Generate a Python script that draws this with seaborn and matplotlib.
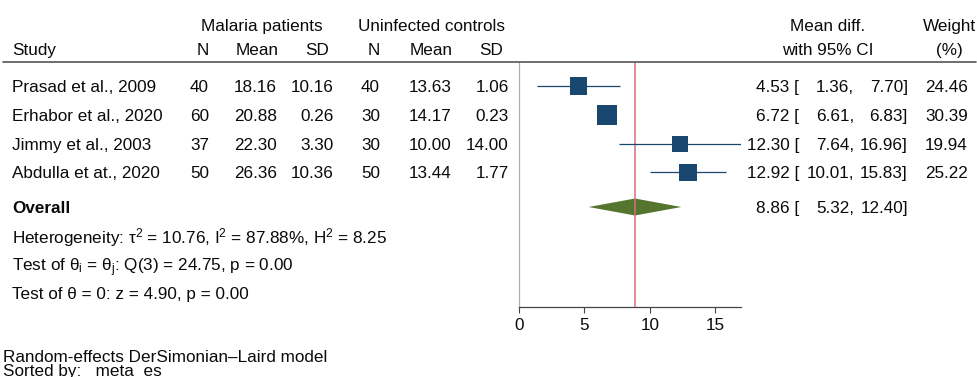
import numpy as np
import pandas as pd
import matplotlib
matplotlib.use("Agg")
import matplotlib.pyplot as plt
import matplotlib.transforms as mtransforms
from matplotlib.lines import Line2D
import seaborn as sns

# study data
studies = ["Prasad et al., 2009", "Erhabor et al., 2020", "Jimmy et al., 2003", "Abdulla et at., 2020"]
mal_n = [40, 60, 37, 50]
mal_mean = [18.16, 20.88, 22.30, 26.36]
mal_sd = [10.16, 0.26, 3.30, 10.36]
ctl_n = [40, 30, 30, 50]
ctl_mean = [13.63, 14.17, 10.00, 13.44]
ctl_sd = [1.06, 0.23, 14.00, 1.77]
effect = [4.53, 6.72, 12.30, 12.92]
ci_low = [1.36, 6.61, 7.64, 10.01]
ci_high = [7.70, 6.83, 16.96, 15.83]
weight = [24.46, 30.39, 19.94, 25.22]

# overall estimate and stats
overall_es, overall_lo, overall_hi = 8.86, 5.32, 12.40
tau2, i2, h2 = 10.76, 87.88, 8.25
q_df, q_stat, q_p = 3, 24.75, 0.00
z_stat, z_p = 4.90, 0.00
x_ticks = [0, 5, 10, 15]

sns.set_theme(style="white")
plt.rcParams['font.family'] = ['Liberation Sans', 'DejaVu Sans']
plt.rcParams['mathtext.fontset'] = 'custom'
plt.rcParams['mathtext.rm'] = 'Liberation Sans'
plt.rcParams['mathtext.it'] = 'Liberation Sans:italic'
plt.rcParams['mathtext.bf'] = 'Liberation Sans:bold'

W, H = 978, 377
FS = 12.3
navy = "#1a476f"
green = "#55752f"
red = "#d6707c"
ink = "#0a0a0a"

df = pd.DataFrame({"study": studies, "es": effect, "lo": ci_low, "hi": ci_high, "w": weight})
df["row"] = np.arange(len(df))

fig = plt.figure(figsize=(W / 100, H / 100), dpi=100)
ax = fig.add_axes([519 / W, 1 - 307 / H, (741 - 519) / W, (307 - 62) / H])

row_top, row_px = 86, 28.8
def row_of(px):
    return (px - row_top) / row_px

ax.set_ylim(row_of(307), row_of(62))
ax.set_xlim(0, 16.96)

# overall diamond
dh = 8.5 / row_px
r_ov = row_of(207)
ax.fill([overall_lo, overall_es, overall_hi, overall_es],
        [r_ov, r_ov - dh, r_ov, r_ov + dh], color=green, lw=0, zorder=2)
ax.axvline(overall_es, color=red, lw=1.1, zorder=3)

# CIs and weighted squares
ax.hlines(df["row"], df["lo"], df["hi"], color=navy, lw=0.9, zorder=4)
sns.scatterplot(data=df, x="es", y="row", marker="s", s=df["w"] * 6.5,
                color=navy, edgecolor="none", linewidth=0, ax=ax, zorder=5, legend=False)

ax.set_xticks(x_ticks)
ax.set_yticks([])
ax.set_xlabel("")
ax.set_ylabel("")
for side in ["top", "right"]:
    ax.spines[side].set_visible(False)
ax.spines["left"].set_color("#b0b0b0")
ax.spines["left"].set_linewidth(0.9)
ax.spines["bottom"].set_color("#444444")
ax.spines["bottom"].set_linewidth(0.9)
ax.tick_params(axis="x", direction="out", length=4, width=0.8, color="#444444",
               labelsize=FS, labelcolor=ink, pad=4, bottom=True)

# text helpers
row_tr = mtransforms.blended_transform_factory(fig.transFigure, ax.transData)
row_tr = mtransforms.offset_copy(row_tr, fig=fig, x=0, y=-6, units="dots")

def rtext(xpx, row, s, ha="right", **kw):
    fig.text(xpx / W, row, s, ha=ha, va="baseline", fontsize=FS, color=ink,
             transform=row_tr, **kw)

def ftext(xpx, ypx, s, ha="left", **kw):
    fig.text(xpx / W, 1 - (ypx + 6) / H, s, ha=ha, va="baseline", fontsize=FS,
             color=ink, **kw)

# header
ftext(262, 25, "Malaria patients", ha="center")
ftext(432, 25, "Uninfected controls", ha="center")
ftext(828, 25, "Mean diff.", ha="center")
ftext(949, 25, "Weight", ha="center")
ftext(12, 49, "Study")
ftext(209, 49, "N", ha="right")
ftext(279, 49, "Mean", ha="right")
ftext(329, 49, "SD", ha="right")
ftext(380, 49, "N", ha="right")
ftext(453, 49, "Mean", ha="right")
ftext(503, 49, "SD", ha="right")
ftext(828, 49, "with 95% CI", ha="center")
ftext(949, 49, "(%)", ha="center")
fig.add_artist(Line2D([3 / W, 976 / W], [1 - 62 / H] * 2, color="#555555", lw=1.2))

# study rows
for i in range(len(studies)):
    rtext(12, i, studies[i], ha="left")
    rtext(209, i, f"{mal_n[i]}")
    rtext(277, i, f"{mal_mean[i]:.2f}")
    rtext(334, i, f"{mal_sd[i]:.2f}")
    rtext(380, i, f"{ctl_n[i]}")
    rtext(452, i, f"{ctl_mean[i]:.2f}")
    rtext(509, i, f"{ctl_sd[i]:.2f}")
    rtext(799, i, f"{effect[i]:.2f} [")
    rtext(854, i, f"{ci_low[i]:.2f},")
    rtext(908, i, f"{ci_high[i]:.2f}]")
    rtext(968, i, f"{weight[i]:.2f}")

# overall rows
rtext(12, r_ov, "Overall", ha="left", fontweight="bold")
rtext(799, r_ov, f"{overall_es:.2f} [")
rtext(854, r_ov, f"{overall_lo:.2f},")
rtext(908, r_ov, f"{overall_hi:.2f}]")
rtext(12, row_of(237), f"Heterogeneity: τ$^2$ = {tau2:.2f}, I$^2$ = {i2:.2f}%, H$^2$ = {h2:.2f}", ha="left")
rtext(12, row_of(265), f"Test of θ$_\\mathrm{{i}}$ = θ$_\\mathrm{{j}}$: Q({q_df}) = {q_stat:.2f}, p = {q_p:.2f}", ha="left")
rtext(12, row_of(293), f"Test of θ = 0: z = {z_stat:.2f}, p = {z_p:.2f}", ha="left")

# footnotes
ftext(3, 356, "Random-effects DerSimonian–Laird model")
ftext(3, 370, "Sorted by: _meta_es")

fig.savefig("out.png", dpi=100)
